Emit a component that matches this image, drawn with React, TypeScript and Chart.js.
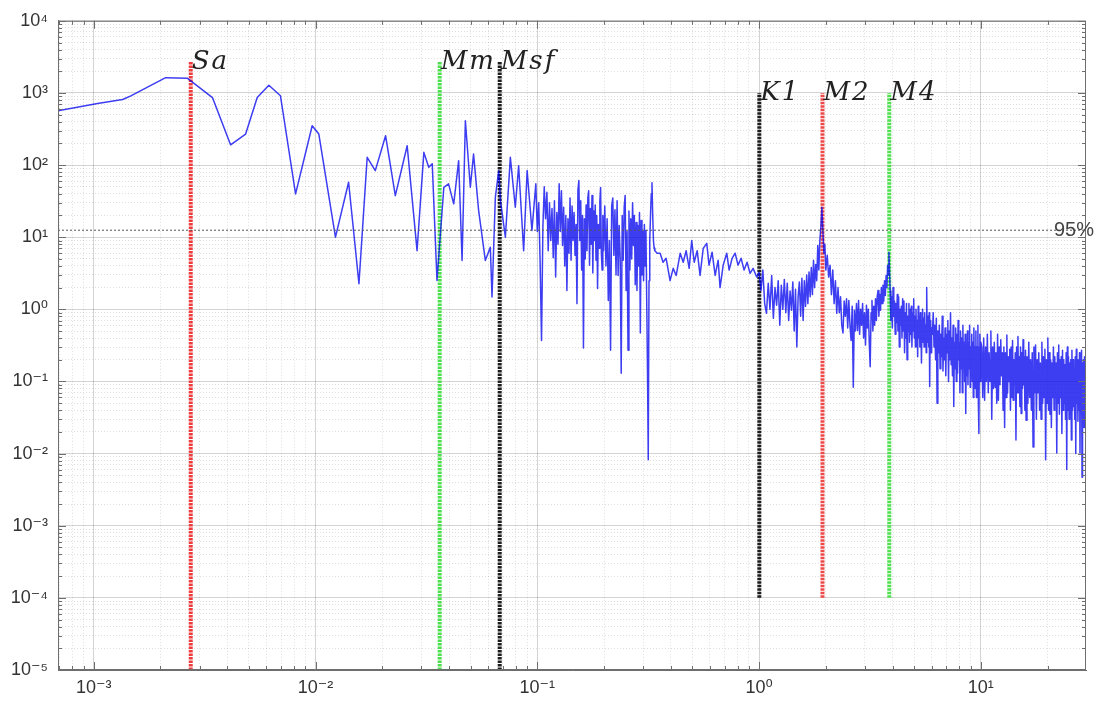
import React, { useEffect, useRef } from "react";
import { Chart, registerables } from "chart.js";

Chart.register(...registerables);

// ---------- axis ranges / ticks ----------
const X_MIN = 0.00069;
const X_MAX = 29.8;
const Y_MIN = 1e-5;
const Y_MAX = 1e4;
const X_DECADES = [-3, -2, -1, 0, 1];
const Y_DECADES = [-5, -4, -3, -2, -1, 0, 1, 2, 3, 4];

// ---------- spectrum (frequency in cpd, amplitude) ----------
const FREQ_LOW = [0.00069, 0.00104, 0.00135, 0.00147, 0.00211, 0.00264, 0.00343, 0.00414, 0.00484, 0.00546,
  0.00616, 0.00695, 0.00813, 0.00966, 0.01035, 0.0123, 0.0141, 0.0157, 0.0171, 0.0186,
  0.0207, 0.0229, 0.0259, 0.0287, 0.0308, 0.0324, 0.0336, 0.0353, 0.0379, 0.0398,
  0.042, 0.0442, 0.0458, 0.0474, 0.0499, 0.0516, 0.0544, 0.0583, 0.0614, 0.0625,
  0.0647, 0.067, 0.0682, 0.0718, 0.0756, 0.0796, 0.0824, 0.0868, 0.09, 0.0946];
const AMP_LOW = [565, 713, 811, 912, 1630, 1600, 863, 191, 269, 863,
  1280, 912, 39.8, 351, 269, 10, 57.7, 2.27, 128, 83.7,
  255, 37.7, 185, 6.5, 150, 93, 104, 2.52, 49.2, 54.8,
  29, 115, 4.76, 411, 49.2, 142, 23.4, 4.76, 7.27, 1.48,
  35.7, 83.7, 32.2, 10, 128, 26, 98, 6.5, 84, 12.4];

const FREQ_A1 = [0.0985, 0.1, 0.1015, 0.103, 0.1045, 0.106, 0.1075, 0.109, 0.1105, 0.112,
  0.1135, 0.115, 0.1165, 0.118, 0.1195, 0.121, 0.1225, 0.124, 0.1255, 0.127,
  0.1285, 0.13, 0.1315, 0.133, 0.1345, 0.136, 0.1375, 0.139, 0.1405, 0.142,
  0.1435, 0.145, 0.1465, 0.148, 0.1495, 0.151, 0.1525, 0.154, 0.1555, 0.157,
  0.1585, 0.16, 0.1615, 0.163, 0.1645, 0.166, 0.1675, 0.169, 0.1705, 0.172,
  0.1735, 0.175, 0.1765, 0.178, 0.1795, 0.181, 0.1825, 0.184, 0.1855, 0.187,
  0.1885, 0.19, 0.1915, 0.193, 0.1945, 0.196, 0.1975, 0.199];
const AMP_A1 = [55, 12, 30, 4.5, 0.37, 14, 50, 18, 42, 6.5,
  30, 9, 25, 5.2, 32, 2.8, 22, 8, 55, 12,
  44, 7.7, 26, 4, 20, 1.83, 18, 6, 35, 4.8,
  27, 9, 22, 5.6, 15, 1.2, 45, 61, 9, 32,
  3.5, 20, 0.29, 18, 5, 28, 6.5, 35, 44, 4.1,
  25, 8, 38, 3.2, 23, 9, 28, 4.8, 20, 1.95,
  15, 7, 32, 49, 6, 3.5, 20, 6.5];

const FREQ_A2 = [0.2015, 0.204, 0.2065, 0.209, 0.2115, 0.214, 0.2165, 0.219, 0.2215, 0.224,
  0.2265, 0.229, 0.2315, 0.234, 0.2365, 0.239, 0.2415, 0.244, 0.2465, 0.249,
  0.2515, 0.254, 0.2565, 0.259, 0.2615, 0.264, 0.2665, 0.269, 0.2715, 0.274,
  0.2765, 0.279, 0.2815, 0.284, 0.2865, 0.289, 0.2915, 0.294, 0.2965, 0.299,
  0.3015, 0.304, 0.3065, 0.309, 0.3115, 0.314, 0.3165, 0.319, 0.3215, 0.324,
  0.3265, 0.329, 0.3315, 0.334, 0.3365, 0.339];
const AMP_A2 = [27, 4, 18, 1.33, 9, 0.27, 27, 35, 5.6, 24,
  3, 32, 2.95, 14.5, 5, 0.13, 20, 4.8, 26, 38,
  1.83, 12, 0.27, 23, 3.5, 18, 5, 30, 7.7, 20,
  2.2, 16, 1.83, 14.5, 4, 22, 0.47, 17, 3, 12,
  2.5, 15, 4, 12.4, 1.33, 0.143, 0.0082, 2.5, 9, 20,
  40, 57, 20, 9, 7, 6.5];

const FREQ_B = [0.347, 0.358, 0.369, 0.381, 0.397, 0.41, 0.423, 0.441, 0.455, 0.469,
  0.484, 0.497, 0.51, 0.526, 0.542, 0.56, 0.581, 0.595, 0.614, 0.634,
  0.654, 0.667, 0.689, 0.715, 0.733, 0.756, 0.78, 0.804, 0.83, 0.856,
  0.883, 0.911, 0.94, 0.976, 1.0];
const AMP_B = [6.0, 6.0, 4.5, 5.1, 2.5, 3.7, 2.95, 6.0, 4.5, 6.5,
  3.7, 9.0, 4.5, 6.5, 2.95, 7.0, 8.2, 4.1, 6.2, 2.95,
  4.8, 2.0, 4.1, 6.0, 3.5, 5.1, 6.0, 4.1, 5.1, 3.5,
  4.5, 3.15, 3.7, 2.8, 3.25];

const FREQ_C = [1.02, 1.04, 1.06, 1.08, 1.1, 1.12, 1.14, 1.16, 1.18, 1.2,
  1.22, 1.24, 1.26, 1.28, 1.3, 1.32, 1.34, 1.36, 1.38, 1.4,
  1.42, 1.44, 1.46, 1.48, 1.5, 1.52, 1.54, 1.56, 1.58, 1.6,
  1.62, 1.64, 1.66, 1.68, 1.7, 1.72, 1.74, 1.76, 1.78, 1.8,
  1.82, 1.84, 1.86, 1.88, 1.9, 1.92, 1.94, 1.96, 1.98, 2.0,
  2.03, 2.06, 2.09, 2.12, 2.15, 2.18, 2.21, 2.24];
const AMP_C = [1.83, 3.5, 1.2, 0.88, 2.3, 1.0, 2.95, 0.75, 2.0, 1.14,
  2.5, 0.6, 2.15, 1.0, 2.6, 0.9, 2.3, 0.7, 1.8, 0.97,
  2.4, 0.5, 1.9, 0.3, 1.5, 2.4, 0.8, 2.7, 0.7, 2.5,
  1.1, 3.0, 1.2, 3.3, 1.5, 3.8, 1.6, 4.8, 2.0, 4.2,
  2.5, 7.7, 3.5, 9, 14, 26, 12, 6, 8, 3.5,
  5.6, 2.8, 4.1, 1.6, 3.5, 1.2, 2.5, 0.88];

const FREQ_D = [2.27, 2.3, 2.33, 2.36, 2.39, 2.42, 2.45, 2.48, 2.51, 2.54,
  2.57, 2.6, 2.63, 2.66, 2.69, 2.72, 2.75, 2.78, 2.81, 2.84,
  2.87, 2.9, 2.93, 2.96, 2.99, 3.02, 3.05, 3.08, 3.11, 3.14,
  3.17, 3.2, 3.23, 3.26, 3.29, 3.32, 3.35, 3.38, 3.41, 3.44,
  3.47, 3.5, 3.53, 3.56, 3.59, 3.62, 3.65, 3.68, 3.71, 3.74,
  3.77, 3.8, 3.83, 3.85, 3.87];
const AMP_D = [2.0, 0.9, 1.5, 0.6, 0.47, 1.3, 0.8, 1.4, 0.55, 1.33,
  0.6, 0.37, 1.1, 0.083, 0.97, 0.5, 1.2, 0.51, 1.33, 0.45,
  1.0, 0.6, 1.2, 0.4, 0.9, 0.32, 1.14, 0.55, 1.0, 0.35,
  0.16, 0.9, 1.33, 0.5, 1.1, 0.6, 1.4, 0.7, 1.5, 1.83,
  0.8, 1.6, 0.97, 2.0, 1.2, 2.15, 1.3, 2.5, 1.56, 2.95,
  2.0, 4.1, 3.0, 6.2, 4.0];

const FREQ_E1 = [3.9, 3.93, 3.96, 3.99, 4.02, 4.05, 4.08, 4.11, 4.14, 4.17,
  4.2, 4.23, 4.26, 4.29, 4.32, 4.35, 4.38, 4.41, 4.44, 4.47,
  4.5, 4.53, 4.56, 4.59, 4.62, 4.65, 4.68, 4.71, 4.74, 4.77,
  4.8, 4.83, 4.86, 4.89, 4.92, 4.95, 4.98, 5.01, 5.04, 5.07,
  5.1, 5.13, 5.16, 5.19, 5.22, 5.25, 5.28, 5.31, 5.34, 5.37,
  5.4, 5.43, 5.46, 5.49, 5.52, 5.55, 5.58, 5.61, 5.64, 5.67,
  5.7, 5.73, 5.76, 5.79, 5.82, 5.85, 5.88, 5.91, 5.94, 5.97, 6.0];
const AMP_E1 = [1.8, 0.7, 1.5, 0.55, 2.0, 0.8, 1.3, 0.45, 1.2, 0.65,
  1.6, 0.5, 1.5, 0.3, 1.0, 0.6, 1.1, 0.4, 1.4, 0.5,
  1.3, 0.25, 0.9, 0.4, 1.2, 0.2, 0.8, 0.5, 1.2, 0.35,
  1.0, 0.45, 1.1, 0.3, 0.9, 0.5, 1.4, 0.4, 0.8, 0.3,
  1.0, 0.45, 0.7, 0.22, 1.1, 0.4, 0.8, 0.3, 0.9, 0.5,
  0.18, 0.7, 1.0, 0.35, 0.75, 0.3, 0.9, 0.4, 0.6, 0.25,
  2.0, 0.45, 0.35, 0.8, 0.3, 0.9, 0.085, 0.6, 0.7, 0.25, 0.55];

const FREQ_E2 = [6.05, 6.1, 6.15, 6.2, 6.25, 6.3, 6.35, 6.4, 6.45, 6.5,
  6.55, 6.6, 6.65, 6.7, 6.75, 6.8, 6.85, 6.9, 6.95, 7.0,
  7.05, 7.1, 7.15, 7.2, 7.25, 7.3, 7.35, 7.4, 7.45, 7.5,
  7.55, 7.6, 7.65, 7.7, 7.75, 7.8, 7.85, 7.9, 7.95, 8.0,
  8.05, 8.1, 8.15, 8.2, 8.25, 8.3, 8.35, 8.4, 8.45, 8.5,
  8.55, 8.6, 8.65, 8.7, 8.75, 8.8, 8.85, 8.9, 8.95, 9.0,
  9.05, 9.1, 9.15, 9.2, 9.25, 9.3, 9.35, 9.4, 9.45, 9.5,
  9.55, 9.6, 9.65, 9.7, 9.75, 9.8, 9.85, 9.9, 9.95, 10.0];
const AMP_E2 = [0.45, 0.9, 0.3, 0.6, 0.2, 0.75, 0.05, 0.5, 0.25, 0.6,
  0.15, 0.45, 0.22, 0.8, 0.14, 0.4, 0.2, 0.55, 0.12, 0.45,
  0.25, 0.7, 0.1, 0.5, 0.2, 0.9, 0.17, 0.4, 0.12, 0.6,
  0.045, 0.35, 0.15, 0.55, 0.1, 0.45, 0.13, 0.7, 0.2, 0.35,
  0.07, 0.5, 0.15, 0.4, 0.07, 0.6, 0.16, 0.35, 0.1, 0.45,
  0.036, 0.3, 0.12, 0.5, 0.09, 0.35, 0.15, 0.6, 0.083, 0.3,
  0.12, 0.45, 0.1, 0.35, 0.06, 0.55, 0.15, 0.3, 0.08, 0.5,
  0.06, 0.3, 0.12, 0.6, 0.05, 0.019, 0.3, 0.45, 0.1, 0.35];

const FREQ_E3 = [10.1, 10.2, 10.3, 10.4, 10.5, 10.6, 10.7, 10.8, 10.9, 11.0,
  11.1, 11.2, 11.3, 11.4, 11.5, 11.6, 11.7, 11.8, 11.9, 12.0,
  12.1, 12.2, 12.3, 12.4, 12.5, 12.6, 12.7, 12.8, 12.9, 13.0,
  13.1, 13.2, 13.3, 13.4, 13.5, 13.6, 13.7, 13.8, 13.9, 14.0,
  14.1, 14.2, 14.3, 14.4, 14.5, 14.6, 14.7, 14.8, 14.9, 15.0,
  15.1, 15.2, 15.3, 15.4, 15.5, 15.6, 15.7, 15.8, 15.9, 16.0];
const AMP_E3 = [0.3, 0.06, 0.4, 0.055, 0.3, 0.1, 0.45, 0.07, 0.25, 0.1,
  0.5, 0.03, 0.3, 0.08, 0.35, 0.083, 0.25, 0.05, 0.45, 0.055,
  0.3, 0.09, 0.38, 0.12, 0.25, 0.04, 0.3, 0.023, 0.25, 0.06,
  0.44, 0.069, 0.22, 0.1, 0.28, 0.04, 0.3, 0.06, 0.37, 0.055,
  0.2, 0.09, 0.25, 0.0154, 0.3, 0.07, 0.42, 0.07, 0.22, 0.045,
  0.3, 0.036, 0.25, 0.08, 0.38, 0.09, 0.22, 0.04, 0.27, 0.029];

const FREQ_E4 = [16.15, 16.3, 16.45, 16.6, 16.75, 16.9, 17.05, 17.2, 17.35, 17.5,
  17.65, 17.8, 17.95, 18.1, 18.25, 18.4, 18.55, 18.7, 18.85, 19.0,
  19.15, 19.3, 19.45, 19.6, 19.75, 19.9, 20.05, 20.2, 20.35, 20.5,
  20.65, 20.8, 20.95, 21.1, 21.25, 21.4, 21.55, 21.7, 21.85, 22.0,
  22.15, 22.3, 22.45, 22.6, 22.75, 22.9, 23.05, 23.2, 23.35, 23.5,
  23.65, 23.8, 23.95, 24.1, 24.25, 24.4, 24.55, 24.7, 24.85, 25.0,
  25.15, 25.3, 25.45, 25.6, 25.75, 25.9, 26.05, 26.2, 26.35, 26.5,
  26.65, 26.8, 26.95, 27.1, 27.25, 27.4, 27.55, 27.7, 27.85, 28.0,
  28.15, 28.3, 28.45, 28.6, 28.75, 28.9, 29.05, 29.2, 29.35, 29.5,
  29.65, 29.8];
const AMP_E4 = [0.22, 0.05, 0.35, 0.06, 0.2, 0.04, 0.25, 0.0123, 0.3, 0.07,
  0.32, 0.03, 0.2, 0.07, 0.25, 0.04, 0.18, 0.03, 0.35, 0.05,
  0.22, 0.06, 0.28, 0.0082, 0.2, 0.05, 0.4, 0.04, 0.25, 0.035,
  0.2, 0.023, 0.18, 0.06, 0.3, 0.04, 0.22, 0.06, 0.18, 0.0102,
  0.25, 0.05, 0.32, 0.035, 0.2, 0.06, 0.22, 0.019, 0.27, 0.04,
  0.2, 0.05, 0.17, 0.03, 0.25, 0.006, 0.3, 0.04, 0.22, 0.03,
  0.18, 0.05, 0.2, 0.0154, 0.27, 0.04, 0.2, 0.045, 0.15, 0.03,
  0.22, 0.01, 0.28, 0.05, 0.2, 0.028, 0.19, 0.04, 0.25, 0.0102,
  0.2, 0.035, 0.27, 0.0047, 0.18, 0.04, 0.2, 0.023, 0.22, 0.03,
  0.15, 0.05];

// ---------- tidal constituents ----------
const CONST_NAMES = ["Sa", "Mm", "Msf", "K1", "M2", "M4"];
const CONST_FREQ = [0.002738, 0.0363, 0.0677, 1.0027, 1.932, 3.8645];
const CONST_TOP = [2700, 2700, 2700, 1000, 1000, 1000];
const CONST_BOTTOM = [1e-5, 1e-5, 1e-5, 1e-4, 1e-4, 1e-4];
const CONST_COLORS = ["#ee3b3b", "#4be04b", "#1c1c1c", "#1c1c1c", "#ee4a4a", "#4fe04f"];

// ---------- confidence level ----------
const CONF_LEVEL = 12.5;
const CONF_LABEL = "95%";

const FREQ = [...FREQ_LOW, ...FREQ_A1, ...FREQ_A2, ...FREQ_B, ...FREQ_C, ...FREQ_D, ...FREQ_E1, ...FREQ_E2, ...FREQ_E3, ...FREQ_E4];
const AMP = [...AMP_LOW, ...AMP_A1, ...AMP_A2, ...AMP_B, ...AMP_C, ...AMP_D, ...AMP_E1, ...AMP_E2, ...AMP_E3, ...AMP_E4];

const SUP: Record<string, string> = {
  "-": "\u207B", "0": "\u2070", "1": "\u00B9", "2": "\u00B2", "3": "\u00B3",
  "4": "\u2074", "5": "\u2075", "6": "\u2076", "7": "\u2077", "8": "\u2078", "9": "\u2079",
};
const powLabel = (e: number) => "10" + String(e).split("").map((c) => SUP[c]).join("");
const decadeOf = (v: number): number | null => {
  const l = Math.log10(v);
  const r = Math.round(l);
  return Math.abs(l - r) < 1e-6 ? r : null;
};
function logTicks(min: number, max: number) {
  const ticks: { value: number; major: boolean }[] = [];
  const lo = Math.floor(Math.log10(min) + 1e-9);
  const hi = Math.ceil(Math.log10(max) - 1e-9);
  for (let d = lo; d <= hi; d++) {
    for (let m = 1; m <= 9; m++) {
      const v = m * Math.pow(10, d);
      if (v >= min * (1 - 1e-9) && v <= max * (1 + 1e-9)) ticks.push({ value: v, major: m === 1 });
    }
  }
  return ticks;
}

const TICK_FONT = { family: "'Liberation Sans', 'DejaVu Sans', sans-serif", size: 18 };
const gridColor = (c: any) => (c.tick && c.tick.major ? "rgba(0,0,0,0.17)" : "rgba(0,0,0,0.13)");
const gridDash = (c: any) => (c.tick && !c.tick.major ? [1, 2] : []);

const overlay = {
  id: "overlay",
  afterDatasetsDraw(chart: any) {
    const { ctx, chartArea: a, scales } = chart;
    const xs = scales.x;
    const ys = scales.y;
    ctx.save();
    // frame
    ctx.strokeStyle = "#6e6e6e";
    ctx.lineWidth = 1;
    ctx.strokeRect(a.left + 0.5, a.top + 0.5, a.right - a.left - 1, a.bottom - a.top - 1);
    // inner tick marks
    ctx.beginPath();
    for (const t of ys.ticks) {
      const y = Math.round(ys.getPixelForValue(t.value)) + 0.5;
      const L = t.major ? 8 : 4;
      ctx.moveTo(a.left, y); ctx.lineTo(a.left + L, y);
      ctx.moveTo(a.right, y); ctx.lineTo(a.right - L, y);
    }
    for (const t of xs.ticks) {
      const x = Math.round(xs.getPixelForValue(t.value)) + 0.5;
      const L = t.major ? 8 : 4;
      ctx.moveTo(x, a.bottom); ctx.lineTo(x, a.bottom - L);
      ctx.moveTo(x, a.top); ctx.lineTo(x, a.top + L);
    }
    ctx.stroke();
    // constituent labels
    ctx.font = "italic 26px 'DejaVu Serif'";
    (ctx as any).letterSpacing = "2px";
    ctx.fillStyle = "#222";
    ctx.textAlign = "left";
    ctx.textBaseline = "middle";
    CONST_NAMES.forEach((name, i) => {
      const px = xs.getPixelForValue(CONST_FREQ[i]);
      const py = ys.getPixelForValue(CONST_TOP[i]);
      ctx.fillText(name, px + 1, py);
    });
    (ctx as any).letterSpacing = "0px";
    // 95% label
    ctx.font = "20px 'Liberation Sans'";
    ctx.fillStyle = "#444";
    ctx.textAlign = "right";
    ctx.fillText(CONF_LABEL, a.right + 8, ys.getPixelForValue(CONF_LEVEL));
    ctx.restore();
  },
};

export default function App() {
  const ref = useRef<HTMLCanvasElement>(null);
  useEffect(() => {
    const spectrum = FREQ.map((f, i) => ({ x: f, y: AMP[i] }));
    const constDatasets = CONST_NAMES.map((name, i) => ({
      label: name,
      data: [
        { x: CONST_FREQ[i], y: CONST_BOTTOM[i] },
        { x: CONST_FREQ[i], y: CONST_TOP[i] },
      ],
      borderColor: CONST_COLORS[i],
      borderWidth: 4,
      borderDash: [2.5, 1],
      pointRadius: 0,
      order: 2,
    }));
    const chart = new Chart(ref.current as HTMLCanvasElement, {
      type: "line",
      data: {
        datasets: [
          {
            label: "Spectrum",
            data: spectrum,
            borderColor: "rgba(0,0,238,0.76)",
            borderWidth: 1.5,
            borderJoinStyle: "round",
            pointRadius: 0,
            tension: 0,
            order: 1,
          },
          {
            label: CONF_LABEL,
            data: [
              { x: X_MIN, y: CONF_LEVEL },
              { x: X_MAX, y: CONF_LEVEL },
            ],
            borderColor: "#555",
            borderWidth: 1,
            borderDash: [2, 2],
            pointRadius: 0,
            order: 0,
          },
          ...constDatasets,
        ] as any,
      },
      options: {
        responsive: false,
        animation: false,
        events: [],
        layout: { padding: { top: 20, right: 10, left: 0, bottom: 0 } },
        plugins: { legend: { display: false }, tooltip: { enabled: false } },
        scales: {
          x: {
            type: "logarithmic",
            min: X_MIN,
            max: X_MAX,
            afterBuildTicks: (s: any) => { s.ticks = logTicks(X_MIN, X_MAX); },
            afterFit: (s: any) => { s.height = 32; },
            grid: { color: gridColor, lineWidth: 1, drawTicks: false },
            border: { display: true, color: "#6e6e6e", width: 1, dash: gridDash },
            ticks: {
              autoSkip: false,
              maxRotation: 0,
              padding: 7,
              color: "#333",
              font: TICK_FONT,
              callback: (v: any) => {
                const d = decadeOf(Number(v));
                return d !== null && X_DECADES.includes(d) ? powLabel(d) : "";
              },
            },
          },
          y: {
            type: "logarithmic",
            min: Y_MIN,
            max: Y_MAX,
            afterBuildTicks: (s: any) => { s.ticks = logTicks(Y_MIN, Y_MAX); },
            afterFit: (s: any) => { s.width = 58; },
            grid: { color: gridColor, lineWidth: 1, drawTicks: false },
            border: { display: true, color: "#6e6e6e", width: 1, dash: gridDash },
            ticks: {
              autoSkip: false,
              padding: 10,
              color: "#333",
              font: TICK_FONT,
              callback: (v: any) => {
                const d = decadeOf(Number(v));
                return d !== null && Y_DECADES.includes(d) ? powLabel(d) : "";
              },
            },
          },
        },
      } as any,
      plugins: [overlay],
    });
    return () => chart.destroy();
  }, []);
  return (
    <div style={{ position: "fixed", left: 0, top: 0, width: 1096, height: 702, background: "#fff" }}>
      <canvas ref={ref} width={1096} height={702} style={{ width: 1096, height: 702, display: "block" }} />
    </div>
  );
}
